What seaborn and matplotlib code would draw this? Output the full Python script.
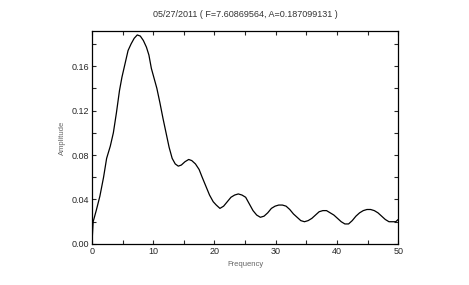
import numpy as np
import pandas as pd
import seaborn as sns
import matplotlib.pyplot as plt
from matplotlib.ticker import MultipleLocator

# spectrum
freq = [0.0, 0.2, 0.7, 1.3, 1.9, 2.4, 3.0, 3.5, 4.0, 4.5, 4.9, 5.4, 5.9, 6.4, 6.9, 7.4,
        7.9, 8.4, 8.9, 9.3, 9.7, 10.2, 10.6, 11.1, 11.6, 12.1, 12.6, 13.1, 13.6, 14.1,
        14.6, 15.2, 15.8, 16.3, 16.9, 17.5, 18.0, 18.6, 19.2, 19.8, 20.3, 20.9, 21.5,
        22.1, 22.7, 23.3, 23.9, 24.5, 25.1, 25.7, 26.3, 26.9, 27.5, 28.1, 28.7, 29.3,
        29.9, 30.5, 31.1, 31.7, 32.3, 32.9, 33.5, 34.1, 34.7, 35.3, 35.9, 36.5, 37.1,
        37.7, 38.3, 38.9, 39.5, 40.1, 40.7, 41.3, 41.9, 42.5, 43.1, 43.7, 44.3, 44.9,
        45.5, 46.1, 46.7, 47.3, 47.9, 48.5, 49.1, 49.6, 50.0]
amp = [0.000, 0.020, 0.030, 0.043, 0.060, 0.077, 0.088, 0.100, 0.118, 0.138, 0.150,
       0.162, 0.174, 0.180, 0.185, 0.188, 0.187, 0.183, 0.177, 0.170, 0.158, 0.148,
       0.140, 0.127, 0.113, 0.100, 0.087, 0.077, 0.072, 0.070, 0.071, 0.074, 0.076,
       0.075, 0.072, 0.067, 0.060, 0.052, 0.044, 0.038, 0.035, 0.032, 0.034, 0.038,
       0.042, 0.044, 0.045, 0.044, 0.042, 0.036, 0.030, 0.026, 0.024, 0.025, 0.028,
       0.032, 0.034, 0.035, 0.035, 0.034, 0.031, 0.027, 0.024, 0.021, 0.020, 0.021,
       0.023, 0.026, 0.029, 0.030, 0.030, 0.028, 0.026, 0.023, 0.020, 0.018, 0.018,
       0.021, 0.025, 0.028, 0.030, 0.031, 0.031, 0.030, 0.028, 0.025, 0.022, 0.020,
       0.020, 0.020, 0.022]

title = "05/27/2011 ( F=7.60869564, A=0.187099131 )"

sns.set_style("ticks")
plt.rcParams['font.family'] = ['Liberation Sans', 'DejaVu Sans']

df = pd.DataFrame({"Frequency": freq, "Amplitude": amp})

fig = plt.figure(figsize=(4.69, 2.85), dpi=100)
ax = fig.add_axes([0.196, 0.144, 0.653, 0.747])
sns.lineplot(data=df, x="Frequency", y="Amplitude", color="black", lw=0.9, ax=ax)

ax.set_xlim(0, 50)
ax.set_ylim(0, 0.1915)
ax.xaxis.set_major_locator(MultipleLocator(10))
ax.xaxis.set_minor_locator(MultipleLocator(5))
ax.yaxis.set_major_locator(MultipleLocator(0.04))
ax.yaxis.set_minor_locator(MultipleLocator(0.02))
ax.yaxis.set_major_formatter(plt.FormatStrFormatter('%.2f'))
ax.tick_params(which='both', direction='in', top=True, right=True,
               labelsize=6.5, length=3, width=0.8, pad=2)
for s in ax.spines.values():
    s.set_visible(True)
    s.set_linewidth(0.9)
    s.set_color('black')

ax.set_xlabel("Frequency", fontsize=5.5, color='#666666', labelpad=4)
ax.set_ylabel("Amplitude", fontsize=5.5, color='#666666', labelpad=4)
ax.set_title(title, fontsize=6.5, color='#333333', pad=10)

fig.savefig("out.png", dpi=100)
